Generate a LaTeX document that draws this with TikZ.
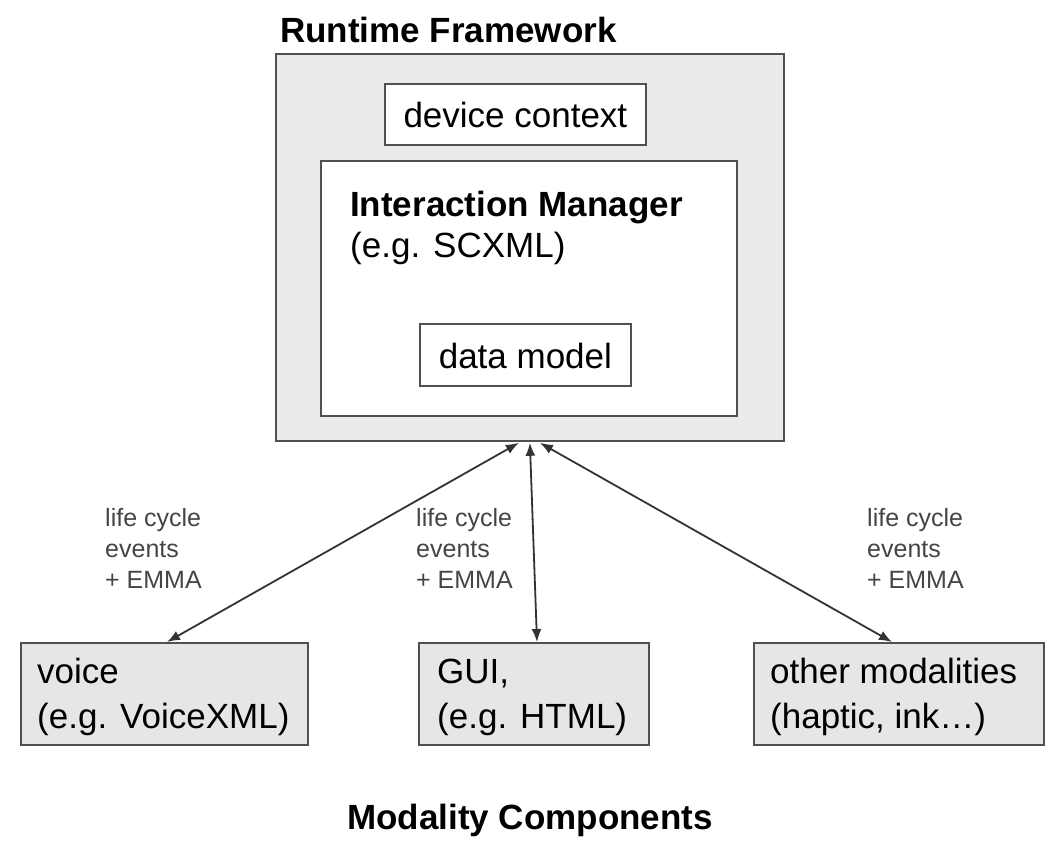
\documentclass[tikz,border=0pt]{standalone}
\usepackage{fontspec}
\setmainfont{Liberation Sans}
\usetikzlibrary{arrows.meta,calc}
\definecolor{boxline}{HTML}{505050}
\definecolor{outerfill}{HTML}{EBEBEB}
\definecolor{compfill}{HTML}{E6E6E6}
\definecolor{labelgray}{HTML}{454545}
\begin{document}
\begin{tikzpicture}[x=1pt,y=-1pt,
  box/.style={draw=boxline, line width=1.8pt, rectangle, inner sep=0pt, anchor=north west},
  txt/.style={inner sep=0pt, anchor=base west, font=\fontsize{35}{42}\selectfont},
  btxt/.style={inner sep=0pt, anchor=base west, font=\fontsize{35}{42}\selectfont\bfseries},
  lbl/.style={inner sep=0pt, anchor=base west, text=labelgray, font=\fontsize{25}{31}\selectfont},
  link/.style={draw=black!80, line width=1.8pt, {Latex[length=13pt,width=10pt]}-{Latex[length=13pt,width=10pt]}}
]
\useasboundingbox (0,0) rectangle (1060,843);
\fill[white] (0,0) rectangle (1060,843);
% Runtime framework
\node[box, fill=outerfill, minimum width=508pt, minimum height=387pt] (rf) at (275,53) {};
\node[btxt] (rft) at (280,43) {Runtime Framework};
\node[box, fill=white, minimum width=261pt, minimum height=61pt] (dc) at (384,83) {};
\node[txt, anchor=center] (dct) at ($(dc.center)+(0,1)$) {device context};
\node[box, fill=white, minimum width=416pt, minimum height=255pt] (im) at (320,160) {};
\node[btxt] (imt) at (350,216) {Interaction Manager};
\node[txt] (imt2) at (350,257) {(e.g. SCXML)};
\node[box, fill=white, minimum width=211pt, minimum height=62pt] (dm) at (419,323) {};
\node[txt, anchor=center] (dmt) at ($(dm.center)+(0,1)$) {data model};
% modality components
\node[box, fill=compfill, minimum width=287pt, minimum height=102pt] (voice) at (20,642) {};
\node[txt] (v1) at (37,683) {voice};
\node[txt] (v2) at (37,728) {(e.g. VoiceXML)};
\node[box, fill=compfill, minimum width=230pt, minimum height=102pt] (gui) at (418,642) {};
\node[txt] (g1) at (437,683) {GUI,};
\node[txt] (g2) at (437,728) {(e.g. HTML)};
\node[box, fill=compfill, minimum width=290pt, minimum height=102pt] (other) at (753,642) {};
\node[txt] (o1) at (770,683) {other modalities};
\node[txt] (o2) at (770,728) {(haptic, ink\dots)};
\node[btxt] (mc) at (347,829) {Modality Components};
% connectors
\coordinate (ra) at ($(rf.south)+(-11,1)$);
\coordinate (rb) at ($(rf.south)+(0,1)$);
\coordinate (rc) at ($(rf.south)+(10,1)$);
\draw[link] (ra) -- ($(voice.north west)+(147,0)$);
\draw[link] (rb) -- ($(gui.north west)+(119,0)$);
\draw[link] (rc) -- ($(other.north west)+(139,0)$);
% labels
\foreach \n/\x in {la/105, lb/416, lc/867}{
  \node[lbl] (\n1) at (\x,526) {life cycle};
  \node[lbl] (\n2) at (\x,557) {events};
  \node[lbl] (\n3) at (\x,588) {+ EMMA};
}
\end{tikzpicture}
\end{document}
